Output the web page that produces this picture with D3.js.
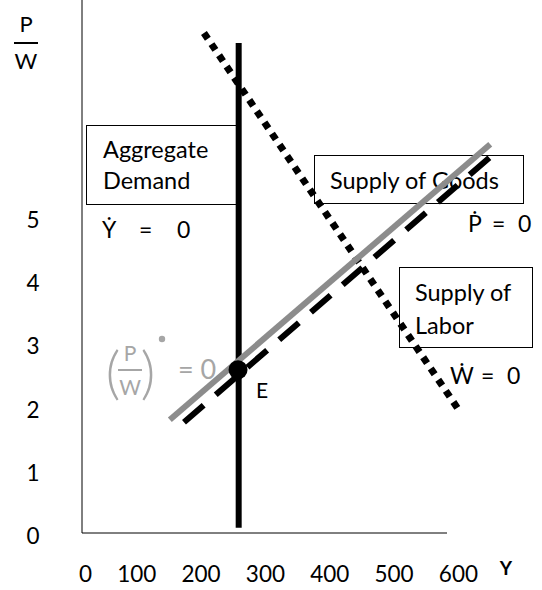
<!DOCTYPE html>
<html><head><meta charset="utf-8">
<script src="https://cdn.jsdelivr.net/npm/d3@7"></script>
<style>
html,body{margin:0;padding:0;background:#fff;}
svg text{font-family:Lato,"Noto Sans",sans-serif;white-space:pre;}
</style></head>
<body>
<script>
// ---- data ----
const xTicks = [0, 100, 200, 300, 400, 500, 600];
const yTicks = [0, 1, 2, 3, 4, 5];
// Aggregate demand (vertical, Ydot = 0)
const demandX = [228, 228];
const demandY = [0.13, 7.80];
// Supply of labor (Wdot = 0), dotted
const laborX = [174, 569];
const laborY = [7.96, 2.01];
// (P/W)dot = 0, gray
const realWageX = [121, 619];
const realWageY = [1.84, 6.20];
// Supply of goods (Pdot = 0), dashed
const goodsX = [143, 626];
const goodsY = [1.80, 6.06];
// Equilibrium E
const eqX = [227];
const eqY = [2.63];

const W = 542, H = 590;
const svg = d3.select("body").append("svg").attr("width", W).attr("height", H);

const x = d3.scaleLinear().domain([0, 600]).range([92, 478]);
const y = d3.scaleLinear().domain([0, 5]).range([536, 220]);

// axes frame
const frameLeft = 82, frameBottom = 533, frameRight = 447;
svg.append("line").attr("x1", frameLeft).attr("x2", frameLeft).attr("y1", 0).attr("y2", frameBottom)
  .attr("stroke", "#000").attr("stroke-width", 1);
svg.append("line").attr("x1", frameLeft).attr("x2", frameRight).attr("y1", frameBottom).attr("y2", frameBottom)
  .attr("stroke", "#000").attr("stroke-width", 1);

// tick labels
svg.selectAll(".xt").data(xTicks).enter().append("text")
  .attr("x", d => x(d)).attr("y", 582).attr("text-anchor", "end")
  .attr("font-size", 22.5).attr("fill", "#000").text(d => d);
svg.selectAll(".yt").data(yTicks).enter().append("text")
  .attr("x", 33).attr("y", d => y(d) + 8).attr("text-anchor", "middle")
  .attr("font-size", 22.5).attr("fill", "#000").text(d => d);

// axis titles
svg.append("text").attr("x", 506).attr("y", 575).attr("text-anchor", "middle")
  .attr("font-size", 19).attr("font-weight", "bold").text("Y");
svg.append("text").attr("x", 26).attr("y", 32).attr("text-anchor", "middle").attr("font-size", 22).text("P");
svg.append("line").attr("x1", 14).attr("x2", 38).attr("y1", 43).attr("y2", 43).attr("stroke", "#000").attr("stroke-width", 2);
svg.append("text").attr("x", 26).attr("y", 69).attr("text-anchor", "middle").attr("font-size", 22).text("W");

// label boxes
function box(x0, y0, x1, y1) {
  svg.append("rect").attr("x", x0 + 0.5).attr("y", y0 + 0.5).attr("width", x1 - x0).attr("height", y1 - y0)
    .attr("fill", "#fff").attr("stroke", "#000").attr("stroke-width", 1);
}
box(86, 125, 238, 204);
box(314, 155, 523, 203);
box(399, 267, 532, 347);

function label(tx, ty, s, size, fill, anchor) {
  return svg.append("text").attr("x", tx).attr("y", ty).attr("font-size", size)
    .attr("fill", fill || "#000").attr("text-anchor", anchor || "start").text(s);
}
// equation "Xdot = 0" placed piecewise
function eq(sym, xs, ty) {
  label(xs[0], ty, sym + "\u0307", 23);
  label(xs[1], ty, "=", 23);
  label(xs[2], ty, "0", 23);
}
label(103, 158, "Aggregate", 23.5);
label(103, 189, "Demand", 23.5);
eq("Y", [102, 139, 177], 238);
label(330, 189, "Supply of Goods", 23.5);
eq("P", [468, 492, 518], 232);
label(415, 301, "Supply of", 23.5);
label(415, 334, "Labor", 23.5);
eq("W", [450, 481, 507], 384);
label(256, 398, "E", 21);

// gray (P/W)dot = 0 label
const g = "#a6a6a6";
svg.append("text").attr("x", 113).attr("y", 393).attr("text-anchor", "middle").attr("font-size", 58)
  .attr("font-weight", 300).attr("fill", g).text("(");
svg.append("text").attr("x", 148).attr("y", 393).attr("text-anchor", "middle").attr("font-size", 58)
  .attr("font-weight", 300).attr("fill", g).text(")");
svg.append("text").attr("x", 130).attr("y", 361).attr("text-anchor", "middle").attr("font-size", 21).attr("fill", g).text("P");
svg.append("line").attr("x1", 118).attr("x2", 142).attr("y1", 370).attr("y2", 370).attr("stroke", g).attr("stroke-width", 2);
svg.append("text").attr("x", 130).attr("y", 395).attr("text-anchor", "middle").attr("font-size", 21).attr("fill", g).text("W");
svg.append("circle").attr("cx", 162).attr("cy", 339).attr("r", 3.2).attr("fill", g);
label(178, 379, "= 0", 27, g);

// lines
const pts = (xs, ys) => xs.map((v, i) => [x(v), y(ys[i])]);
const line = d3.line();
svg.append("path").attr("d", line(pts(laborX, laborY))).attr("fill", "none")
  .attr("stroke", "#000").attr("stroke-width", 7).attr("stroke-dasharray", "7,6.5");
svg.append("path").attr("d", line(pts(demandX, demandY))).attr("fill", "none")
  .attr("stroke", "#000").attr("stroke-width", 6);
svg.append("path").attr("d", line(pts(goodsX, goodsY))).attr("fill", "none")
  .attr("stroke", "#000").attr("stroke-width", 6).attr("stroke-dasharray", "26,16");
svg.append("path").attr("d", line(pts(realWageX, realWageY))).attr("fill", "none")
  .attr("stroke", "#8c8c8c").attr("stroke-width", 6);
svg.selectAll(".eq").data(eqX).enter().append("circle")
  .attr("cx", d => x(d)).attr("cy", (d, i) => y(eqY[i])).attr("r", 9.5).attr("fill", "#000");
</script>
</body></html>
